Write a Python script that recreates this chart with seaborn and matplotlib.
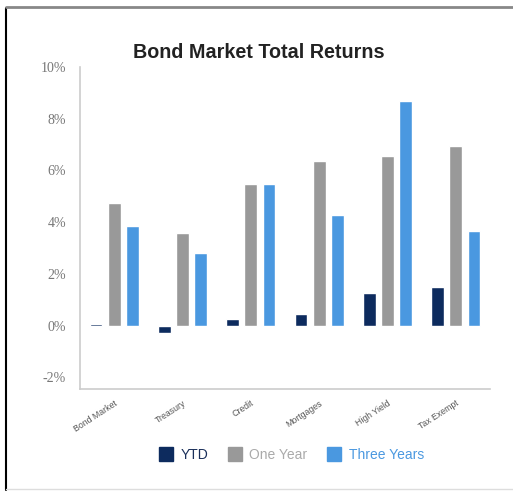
import matplotlib
matplotlib.use("Agg")
import matplotlib.pyplot as plt
import seaborn as sns
import pandas as pd
from matplotlib.lines import Line2D
from matplotlib.ticker import FuncFormatter

# Valores (em %)
categorias = ["Bond Market", "Treasury", "Credit", "Mortgages", "High Yield", "Tax Exempt"]
series = ["YTD", "One Year", "Three Years"]
ytd = [0.06, -0.28, 0.27, 0.45, 1.25, 1.48]
one_year = [4.75, 3.59, 5.48, 6.35, 6.57, 6.95]
three_years = [3.87, 2.80, 5.47, 4.28, 8.70, 3.66]
cores = ["#0d2b5e", "#999999", "#4a98e0"]

df = pd.DataFrame({
    "categoria": categorias * 3,
    "serie": [s for s in series for _ in categorias],
    "valor": ytd + one_year + three_years,
})

sns.set_style("white")
plt.rcParams["font.family"] = ["Liberation Sans", "DejaVu Sans"]

fig = plt.figure(figsize=(5.13, 4.93), dpi=100)
ax = fig.add_axes([80 / 513, 1 - 389 / 493, 410 / 513, 322 / 493])

sns.barplot(data=df, x="categoria", y="valor", hue="serie", order=categorias,
            hue_order=series, palette=cores, width=0.8, gap=0.3,
            saturation=1, legend=False, ax=ax)

ax.set_ylim(-2.45, 10)
ax.set_xlim(-0.5, 5.5)
ax.set_yticks([-2, 0, 2, 4, 6, 8, 10])
ax.yaxis.set_major_formatter(FuncFormatter(lambda v, p: f"{v:.0f}%"))
ax.set_xlabel("")
ax.set_ylabel("")

for lado in ["top", "right"]:
    ax.spines[lado].set_visible(False)
for lado in ["left", "bottom"]:
    ax.spines[lado].set_color("#cccccc")
    ax.spines[lado].set_linewidth(1.2)

ax.tick_params(axis="y", length=4, width=0.8, color="#cccccc", pad=6,
               labelsize=10, labelcolor="#777777")
ax.tick_params(axis="x", length=4, width=0.8, color="#cccccc", pad=3,
               labelsize=6.3, labelcolor="#555555")
for lbl in ax.get_yticklabels():
    lbl.set_family("Liberation Serif")
for lbl in ax.get_xticklabels():
    lbl.set_rotation(33)
    lbl.set_ha("right")
    lbl.set_rotation_mode("anchor")

fig.text(0.505, 1 - 52 / 493, "Bond Market Total Returns", ha="center", va="center",
         fontsize=14.2, fontweight="bold", color="#222222")

handles = [Line2D([], [], marker="s", linestyle="none", markersize=9.5,
                  markerfacecolor=c, markeredgecolor=c) for c in cores]
leg = fig.legend(handles, series, loc="center", bbox_to_anchor=(288 / 513, 1 - 455 / 493),
                 ncol=3, frameon=False, fontsize=10, handletextpad=0.05,
                 columnspacing=0.9, labelcolor=["#1a2f5a", "#aaaaaa", "#4a98e0"])

# moldura da imagem
fig.add_artist(Line2D([6 / 513, 6 / 513], [1 - 490 / 493, 1 - 8 / 493], color="black", lw=1.5))
fig.add_artist(Line2D([6 / 513, 1], [1 - 7 / 493, 1 - 7 / 493], color="#888888", lw=2))
fig.add_artist(Line2D([6 / 513, 1], [1 - 489 / 493, 1 - 489 / 493], color="#dddddd", lw=1))

fig.savefig("out.png", dpi=100)
